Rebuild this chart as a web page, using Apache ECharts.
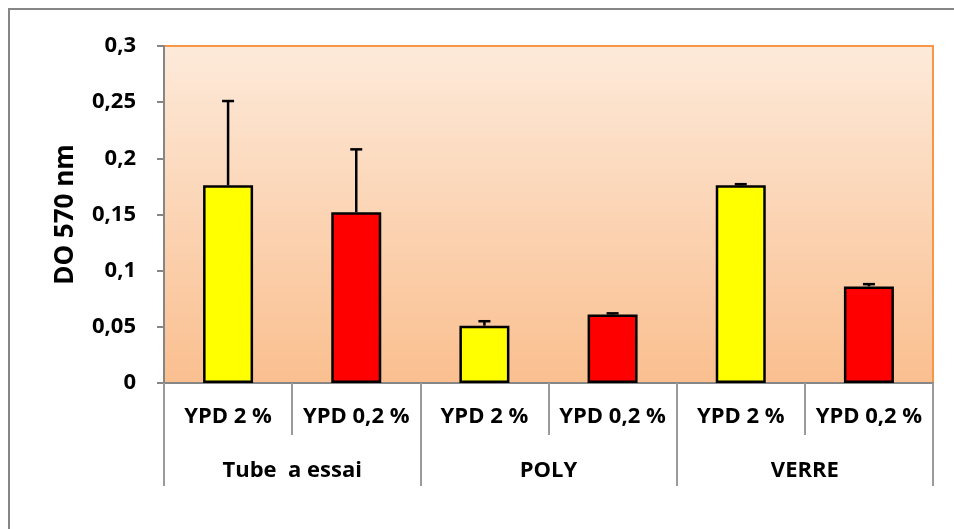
<!DOCTYPE html>
<html>
<head>
<meta charset="utf-8">
<script src="https://cdn.jsdelivr.net/npm/echarts@6/dist/echarts.min.js"></script>
<style>
  html, body { margin: 0; padding: 0; background: #fff; overflow: hidden; }
  #frame { position: absolute; left: 8px; top: 8px; width: 960px; height: 540px; border: 2px solid #868686; box-sizing: border-box; }
  #chart { position: absolute; left: 0; top: 0; width: 954px; height: 529px; }
</style>
</head>
<body>
<div id="frame"></div>
<div id="chart"></div>
<script>
// Culture media per support, optical density at 570 nm
const media = ['YPD 2 %', 'YPD 0,2 %', 'YPD 2 %', 'YPD 0,2 %', 'YPD 2 %', 'YPD 0,2 %'];
const supports = ['Tube  a essai', 'POLY', 'VERRE'];
const means = [0.176, 0.152, 0.051, 0.061, 0.176, 0.086];
const errTops = [0.251, 0.208, 0.055, 0.062, 0.177, 0.088];
const barColors = ['#FFFF00', '#FF0000', '#FFFF00', '#FF0000', '#FFFF00', '#FF0000'];
const yTicks = { min: 0, max: 0.3, interval: 0.05 };

const font = '"Open Sans", sans-serif';
const chart = echarts.init(document.getElementById('chart'), null, { renderer: 'canvas' });

const barData = means.map((v, i) => ({
  value: v,
  itemStyle: { color: barColors[i] }
}));
const errData = means.map((v, i) => [i, v, errTops[i]]);

chart.setOption({
  animation: false,
  grid: {
    left: 164, top: 46, right: 21, bottom: 146,
    show: true,
    borderColor: '#F79646', borderWidth: 2,
    backgroundColor: new echarts.graphic.LinearGradient(0, 0, 0, 1, [
      { offset: 0, color: '#FDEADA' },
      { offset: 1, color: '#FABF8F' }
    ])
  },
  xAxis: [
    {
      type: 'category', data: media, position: 'bottom',
      axisLine: { show: true, lineStyle: { color: '#868686', width: 2 } },
      axisTick: { show: true, interval: 0, length: 52, lineStyle: { color: '#9a9a9a', width: 2 } },
      axisLabel: { interval: 0, margin: 23, color: '#000', fontFamily: font, fontWeight: 'bold', fontSize: 22 },
      splitLine: { show: false }
    },
    {
      type: 'category', data: supports, position: 'bottom',
      axisLine: { show: false },
      axisTick: { show: true, interval: 0, length: 103, lineStyle: { color: '#9a9a9a', width: 2 } },
      axisLabel: { interval: 0, margin: 77, color: '#000', fontFamily: font, fontWeight: 'bold', fontSize: 22 },
      splitLine: { show: false }
    }
  ],
  yAxis: {
    type: 'value', min: yTicks.min, max: yTicks.max, interval: yTicks.interval,
    name: 'DO 570 nm', nameLocation: 'middle', nameGap: 85, nameRotate: 90,
    nameTextStyle: { color: '#000', fontFamily: font, fontWeight: 'bold', fontSize: 26 },
    axisLine: { show: true, lineStyle: { color: '#868686', width: 2 } },
    axisTick: { show: true, length: 7, lineStyle: { color: '#868686', width: 2 } },
    axisLabel: {
      margin: 28, color: '#000', fontFamily: font, fontWeight: 'bold', fontSize: 22,
      formatter: v => String(+v.toFixed(2)).replace('.', ',')
    },
    splitLine: { show: false }
  },
  series: [
    {
      type: 'bar', xAxisIndex: 0, data: barData, barWidth: 50,
      itemStyle: { borderColor: '#000', borderWidth: 2.5 }
    },
    {
      type: 'custom', xAxisIndex: 0, data: errData, z: 3,
      renderItem: (params, api) => {
        const i = api.value(0);
        const base = api.coord([i, api.value(1)]);
        const top = api.coord([i, api.value(2)]);
        const style = { stroke: '#000', lineWidth: 2.5 };
        return {
          type: 'group',
          children: [
            { type: 'line', shape: { x1: base[0], y1: base[1], x2: top[0], y2: top[1] }, style },
            { type: 'line', shape: { x1: top[0] - 6, y1: top[1], x2: top[0] + 6, y2: top[1] }, style }
          ]
        };
      }
    }
  ]
});
</script>
</body>
</html>
